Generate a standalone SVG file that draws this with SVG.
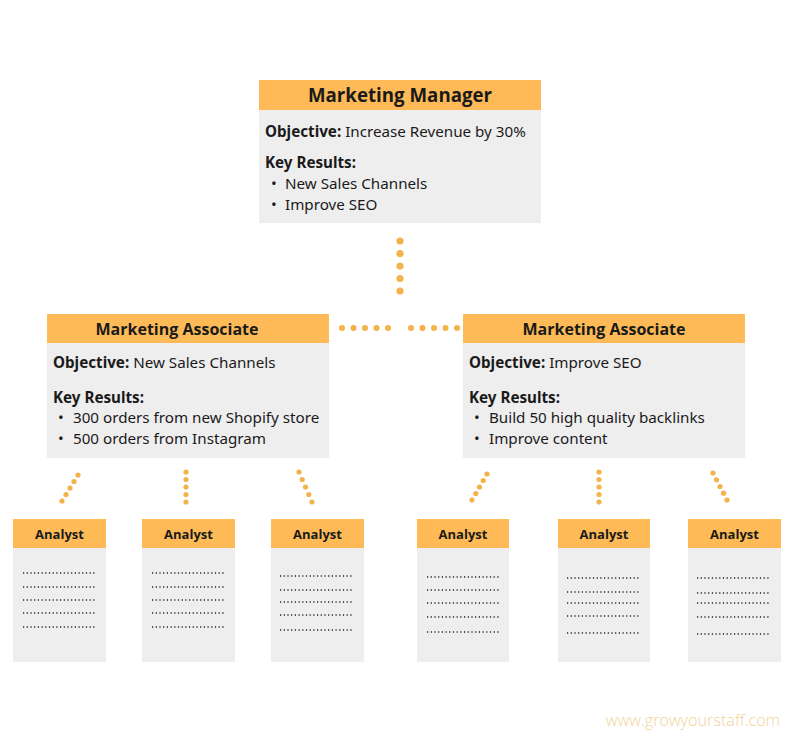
<svg xmlns="http://www.w3.org/2000/svg" width="800" height="737" viewBox="0 0 800 737">
<style>
.hd{fill:#fdba56}
.bd{fill:#efeeef}
.ht{font-family:"Open Sans",sans-serif;font-weight:700;fill:#1a1a1a;text-anchor:middle}
.tx{font-family:"Noto Sans",sans-serif;font-size:15.2px;fill:#1a1a1a}
.b{font-weight:700}
.dl{stroke:#222;stroke-width:1.4;stroke-dasharray:1.2 2.5;fill:none}
.cd{fill:#f4b24a}
</style>
<rect width="800" height="737" fill="#fff"/>
<g id="connectors">
<g class="cd">
<circle cx="400" cy="241" r="3.6"/><circle cx="400" cy="253.5" r="3.6"/><circle cx="400" cy="266" r="3.6"/><circle cx="400" cy="278.5" r="3.6"/><circle cx="400" cy="291" r="3.6"/>
<circle cx="342" cy="328" r="3"/><circle cx="353.5" cy="328" r="3"/><circle cx="365" cy="328" r="3"/><circle cx="376.5" cy="328" r="3"/><circle cx="388" cy="328" r="3"/>
<circle cx="411" cy="328" r="3"/><circle cx="422.5" cy="328" r="3"/><circle cx="434" cy="328" r="3"/><circle cx="445.5" cy="328" r="3"/><circle cx="457" cy="328" r="3"/>
<circle cx="78" cy="475" r="2.6"/><circle cx="74" cy="481.5" r="2.6"/><circle cx="70" cy="488" r="2.6"/><circle cx="66" cy="494.5" r="2.6"/><circle cx="62" cy="501" r="2.6"/>
<circle cx="186" cy="472" r="2.6"/><circle cx="186" cy="479.5" r="2.6"/><circle cx="186" cy="487" r="2.6"/><circle cx="186" cy="494.5" r="2.6"/><circle cx="186" cy="502" r="2.6"/>
<circle cx="299" cy="472" r="2.6"/><circle cx="302.2" cy="479.5" r="2.6"/><circle cx="305.5" cy="487" r="2.6"/><circle cx="308.8" cy="494.5" r="2.6"/><circle cx="312" cy="502" r="2.6"/>
<circle cx="487" cy="474" r="2.6"/><circle cx="483.2" cy="480.5" r="2.6"/><circle cx="479.5" cy="487" r="2.6"/><circle cx="475.8" cy="493.5" r="2.6"/><circle cx="472" cy="500" r="2.6"/>
<circle cx="599" cy="472" r="2.6"/><circle cx="599" cy="479.5" r="2.6"/><circle cx="599" cy="487" r="2.6"/><circle cx="599" cy="494.5" r="2.6"/><circle cx="599" cy="502" r="2.6"/>
<circle cx="713" cy="473" r="2.6"/><circle cx="716.5" cy="479.8" r="2.6"/><circle cx="720" cy="486.5" r="2.6"/><circle cx="723.5" cy="493.2" r="2.6"/><circle cx="727" cy="500" r="2.6"/>
</g>
</g>
<g id="manager">
<rect class="bd" x="259" y="80" width="282" height="143"/>
<rect class="hd" x="259" y="80" width="282" height="30"/>
<text class="ht" x="400" y="102" font-size="18.7">Marketing Manager</text>
<text class="tx" x="265" y="137"><tspan class="b">Objective:</tspan> Increase Revenue by 30%</text>
<text class="tx b" x="265" y="168">Key Results:</text>
<text class="tx" x="271" y="189">•<tspan x="285">New Sales Channels</tspan></text>
<text class="tx" x="271" y="210">•<tspan x="285">Improve SEO</tspan></text>
</g>
<g id="associate-left">
<rect class="bd" x="47" y="314" width="282" height="144"/>
<rect class="hd" x="47" y="314" width="282" height="29"/>
<text class="ht" x="177" y="335" font-size="16">Marketing Associate</text>
<text class="tx" x="53" y="368"><tspan class="b">Objective:</tspan> New Sales Channels</text>
<text class="tx b" x="53" y="403">Key Results:</text>
<text class="tx" x="58" y="423">•<tspan x="73">300 orders from new Shopify store</tspan></text>
<text class="tx" x="58" y="444">•<tspan x="73">500 orders from Instagram</tspan></text>
</g>
<g id="associate-right">
<rect class="bd" x="463" y="314" width="282" height="144"/>
<rect class="hd" x="463" y="314" width="282" height="29"/>
<text class="ht" x="604" y="335" font-size="16">Marketing Associate</text>
<text class="tx" x="469" y="368"><tspan class="b">Objective:</tspan> Improve SEO</text>
<text class="tx b" x="469" y="403">Key Results:</text>
<text class="tx" x="474" y="423">•<tspan x="489">Build 50 high quality backlinks</tspan></text>
<text class="tx" x="474" y="444">•<tspan x="489">Improve content</tspan></text>
</g>
<g id="analyst-1">
<rect class="bd" x="13" y="519" width="93" height="143"/>
<rect class="hd" x="13" y="519" width="93" height="29"/>
<text class="ht" x="59.5" y="539" font-size="13">Analyst</text>
<path class="dl" d="M23 573H97M23 587H97M23 600H97M23 613H97M23 627H97"/>
</g>
<g id="analyst-2">
<rect class="bd" x="142" y="519" width="93" height="143"/>
<rect class="hd" x="142" y="519" width="93" height="29"/>
<text class="ht" x="188.5" y="539" font-size="13">Analyst</text>
<path class="dl" d="M152 573H226M152 587H226M152 600H226M152 613H226M152 627H226"/>
</g>
<g id="analyst-3">
<rect class="bd" x="271" y="519" width="93" height="143"/>
<rect class="hd" x="271" y="519" width="93" height="29"/>
<text class="ht" x="317.5" y="539" font-size="13">Analyst</text>
<path class="dl" d="M280 576H354M280 590H354M280 602H354M280 615H354M280 630H354"/>
</g>
<g id="analyst-4">
<rect class="bd" x="417" y="519" width="92" height="143"/>
<rect class="hd" x="417" y="519" width="92" height="29"/>
<text class="ht" x="463" y="539" font-size="13">Analyst</text>
<path class="dl" d="M427 577H501M427 590H501M427 603H501M427 617H501M427 632H501"/>
</g>
<g id="analyst-5">
<rect class="bd" x="558" y="519" width="92" height="143"/>
<rect class="hd" x="558" y="519" width="92" height="29"/>
<text class="ht" x="604" y="539" font-size="13">Analyst</text>
<path class="dl" d="M567 578H641M567 592H641M567 603H641M567 616H641M567 633H641"/>
</g>
<g id="analyst-6">
<rect class="bd" x="688" y="519" width="93" height="143"/>
<rect class="hd" x="688" y="519" width="93" height="29"/>
<text class="ht" x="734.5" y="539" font-size="13">Analyst</text>
<path class="dl" d="M697 578H771M697 593H771M697 603H771M697 617H771M697 634H771"/>
</g>
<text x="780" y="726" font-family="'Open Sans',sans-serif" font-size="16.2" font-weight="300" fill="#f2d39a" text-anchor="end">www.growyourstaff.com</text>
</svg>
